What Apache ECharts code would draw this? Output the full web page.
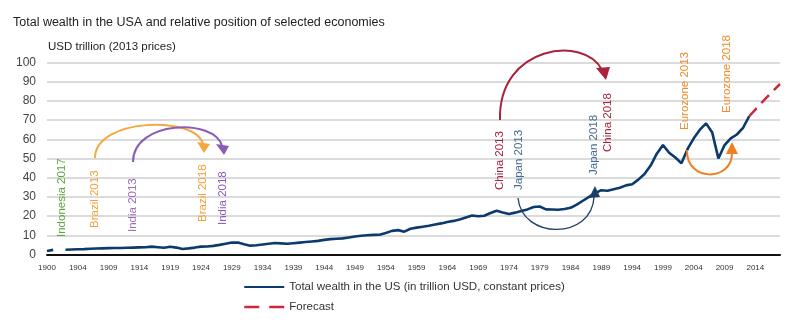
<!DOCTYPE html>
<html><head><meta charset="utf-8">
<script src="https://cdn.jsdelivr.net/npm/echarts@6/dist/echarts.min.js"></script>
<style>html,body{margin:0;padding:0;background:#fff}#c{width:800px;height:325px}</style>
</head><body><div id="c"></div>
<script>
// Category axis: 1900, 1901, one blank slot (gap in the source), then 1902..2018
const categories = ['1900', '1901', ''];
for (let y = 1902; y <= 2018; y++) categories.push(String(y));

const yTicks = { min: 0, max: 100, interval: 10 };

// Total wealth in the US (trillion USD, 2013 prices)
const wealthUS = [
  1.8, 2.4, null,
  2.5, 2.6, 2.7, 2.8, 3.0, 3.1, 3.2, 3.3,                 // 1902-1909
  3.4, 3.4, 3.5, 3.6, 3.7, 3.8, 4.1, 3.8, 3.5, 4.0,       // 1910s
  3.6, 2.9, 3.2, 3.6, 4.1, 4.2, 4.5, 5.0, 5.6, 6.2,       // 1920s
  6.2, 5.3, 4.6, 4.8, 5.2, 5.6, 6.0, 5.8, 5.6, 5.9,       // 1930s
  6.2, 6.5, 6.8, 7.1, 7.6, 8.0, 8.2, 8.4, 8.9, 9.4,       // 1940s
  9.8, 10.0, 10.2, 10.3, 11.2, 12.3, 12.7, 11.9, 13.4, 14.0, // 1950s
  14.5, 15.0, 15.6, 16.2, 16.9, 17.5, 18.2, 19.3, 20.3, 19.9, // 1960s
  20.2, 21.6, 22.8, 21.9, 21.1, 21.8, 22.6, 23.5, 24.7, 25.0, // 1970s
  23.5, 23.4, 23.3, 23.7, 24.3, 26.0, 28.0, 30.0, 32.0, 33.5, // 1980s
  33.2, 34.0, 34.8, 36.0, 36.6, 39.0, 41.9, 46.3, 52.5, 57.0, // 1990s
  53.0, 50.5, 47.5, 55.0, 60.5, 65.0, 68.3, 63.5, 50.0, 57.0, // 2000s
  60.5, 62.5, 66.0, 72.0,                                  // 2010-2013
  null, null, null, null, null
];

// Forecast 2013..2018
const forecastValues = [72.0, 75.5, 79.0, 82.3, 85.6, 88.8];
const forecast = new Array(categories.length - forecastValues.length).fill(null).concat(forecastValues);

const seriesNames = ['Total wealth in the US (in trillion USD, constant prices)', 'Forecast'];

// Annotation labels (text, colour, anchor)
const annoTexts = [
  ['Indonesia 2017', '#5aa83c', 62, 237],
  ['Brazil 2013', '#f5a03a', 95, 228],
  ['India 2013', '#9b6bbd', 133, 232],
  ['Brazil 2018', '#f5a03a', 203, 222],
  ['India 2018', '#8a5cb8', 223, 225],
  ['China 2013', '#a8233b', 500, 190],
  ['Japan 2013', '#456b8f', 519, 190],
  ['Japan 2018', '#456b8f', 594, 175],
  ['China 2018', '#a8233b', 608, 152],
  ['Eurozone 2013', '#f08a2c', 685, 130],
  ['Eurozone 2018', '#f08a2c', 727, 113]
];
// Arrows: colour, width, bezier [x1,y1,cpx1,cpy1,cpx2,cpy2,x2,y2], arrowhead polygon
const annoArrows = [
  ['#f5a742', 2, [95,158, 95,118, 195,115, 203,144], [[197,142],[210,144],[204,153]]],
  ['#8a5cb8', 2, [133,162, 133,120, 215,118, 222,146], [[216,144],[229,146],[224,155]]],
  ['#a8233b', 2, [500,120, 498,45, 585,35, 602,70], [[596,68],[610,67],[606,80]]],
  ['#1f3e66', 1.3, [518,198, 522,240, 592,240, 594,197], [[589,198],[600,197],[595,186]]],
  ['#ee7f22', 2, [687,150, 686,182, 732,182, 732,153], [[726,154],[738,154],[732,142]]]
];

const FONT = 'Liberation Sans, Arial, sans-serif';
const graphic = [];
annoTexts.forEach(([t, c, x, y]) => {
  graphic.push({ type: 'text', x: x, y: y, rotation: Math.PI / 2, z: 100,
    style: { text: t, fill: c, font: '11.5px ' + FONT, align: 'left', verticalAlign: 'middle' } });
});
annoArrows.forEach(([c, w, b, head]) => {
  graphic.push({ type: 'bezierCurve', z: 100,
    shape: { x1: b[0], y1: b[1], cpx1: b[2], cpy1: b[3], cpx2: b[4], cpy2: b[5], x2: b[6], y2: b[7] },
    style: { stroke: c, lineWidth: w, fill: null } });
  graphic.push({ type: 'polygon', z: 100, shape: { points: head }, style: { fill: c } });
});

const chart = echarts.init(document.getElementById('c'), null, { renderer: 'canvas' });
chart.setOption({
  animation: false,
  backgroundColor: '#fff',
  textStyle: { fontFamily: FONT },
  title: [
    { text: 'Total wealth in the USA and relative position of selected economies', left: 13, top: 14.5, padding: 0,
      textStyle: { fontSize: 12.5, fontWeight: 'normal', color: '#222', lineHeight: 16, fontFamily: FONT } },
    { text: 'USD trillion (2013 prices)', left: 48, top: 39.7, padding: 0,
      textStyle: { fontSize: 11.5, fontWeight: 'normal', color: '#222', lineHeight: 14, fontFamily: FONT } }
  ],
  grid: { left: 47, right: 20, top: 62.5, bottom: 70.5, containLabel: false },
  legend: {
    orient: 'vertical', left: 243, top: 280, padding: 0, itemWidth: 40, itemHeight: 14, itemGap: 6, itemTextGap: 4,
    textStyle: { fontSize: 11.5, color: '#333', fontFamily: FONT, lineHeight: 14 },
    itemStyle: { opacity: 0 },
    data: [
      { name: seriesNames[0], itemStyle: { opacity: 0 } },
      { name: seriesNames[1], itemStyle: { opacity: 0 }, lineStyle: { type: [15, 10], width: 2.5 } }
    ]
  },
  xAxis: {
    type: 'category', data: categories, boundaryGap: false,
    axisLine: { show: true, lineStyle: { color: '#111', width: 2 } },
    axisTick: { show: false },
    axisLabel: { interval: 4, fontSize: 8, color: '#333', margin: 9, fontFamily: FONT },
    splitLine: { show: false }
  },
  yAxis: {
    type: 'value', min: yTicks.min, max: yTicks.max, interval: yTicks.interval,
    axisLine: { show: false }, axisTick: { show: false },
    axisLabel: { fontSize: 12, color: '#444', margin: 11, fontFamily: FONT },
    splitLine: { lineStyle: { color: '#cfcfcf', width: 1.5 } }
  },
  series: [
    { name: seriesNames[0], type: 'line', data: wealthUS, symbol: 'none', connectNulls: false,
      lineStyle: { color: '#0d3a6c', width: 2.6 }, itemStyle: { color: '#0d3a6c' }, z: 5 },
    { name: seriesNames[1], type: 'line', data: forecast, symbol: 'none',
      lineStyle: { color: '#d0283a', width: 2.5, type: [11, 7] }, itemStyle: { color: '#d0283a' }, z: 4 }
  ],
  graphic: graphic
});
</script>
</body></html>
